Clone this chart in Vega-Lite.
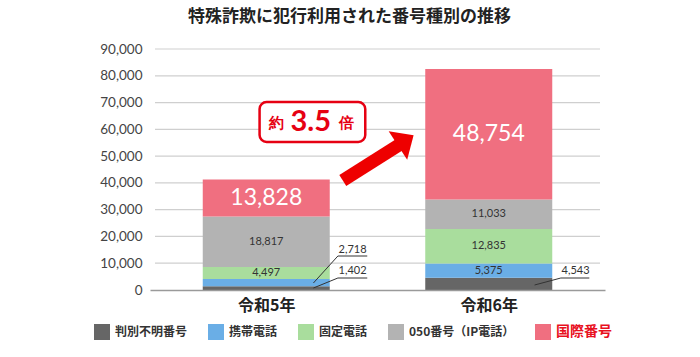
{
  "$schema": "https://vega.github.io/schema/vega-lite/v6.json",
  "autosize": {"type": "none"},
  "width": 455,
  "height": 241,
  "padding": {"left": 150, "top": 49, "right": 95, "bottom": 67},
  "background": "white",
  "title": {
    "text": "特殊詐欺に犯行利用された番号種別の推移",
    "font": "Noto Sans CJK JP",
    "fontSize": 17,
    "fontWeight": "bold",
    "color": "#222222",
    "anchor": "middle",
    "dx": -28,
    "offset": 16
  },
  "config": {"view": {"stroke": null}},
  "resolve": {"axis": {"x": "independent", "y": "independent"}},
  "datasets": {
    "grid": [
      {"v": 10000}, {"v": 20000}, {"v": 30000}, {"v": 40000}, {"v": 50000},
      {"v": 60000}, {"v": 70000}, {"v": 80000}, {"v": 90000}
    ],
    "bars": [
      {"year": "令和5年", "idx": 1, "type": "判別不明番号", "k": 1, "value": 1402},
      {"year": "令和5年", "idx": 1, "type": "携帯電話", "k": 2, "value": 2718},
      {"year": "令和5年", "idx": 1, "type": "固定電話", "k": 3, "value": 4497},
      {"year": "令和5年", "idx": 1, "type": "050番号（IP電話）", "k": 4, "value": 18817},
      {"year": "令和5年", "idx": 1, "type": "国際番号", "k": 5, "value": 13828},
      {"year": "令和6年", "idx": 2, "type": "判別不明番号", "k": 1, "value": 4543},
      {"year": "令和6年", "idx": 2, "type": "携帯電話", "k": 2, "value": 5375},
      {"year": "令和6年", "idx": 2, "type": "固定電話", "k": 3, "value": 12835},
      {"year": "令和6年", "idx": 2, "type": "050番号（IP電話）", "k": 4, "value": 11033},
      {"year": "令和6年", "idx": 2, "type": "国際番号", "k": 5, "value": 48754}
    ],
    "leaders": [
      {"g": "a", "x": 1.212, "y": 2614},
      {"g": "a", "x": 1.322, "y": 12696},
      {"g": "a", "x": 1.454, "y": 12696},
      {"g": "b", "x": 1.212, "y": 747},
      {"g": "b", "x": 1.322, "y": 4481},
      {"g": "b", "x": 1.454, "y": 4481},
      {"g": "c", "x": 2.206, "y": 1867},
      {"g": "c", "x": 2.324, "y": 4481},
      {"g": "c", "x": 2.452, "y": 4481}
    ],
    "leaderLabels": [
      {"label": "2,718", "x": 1.388, "y": 15000},
      {"label": "1,402", "x": 1.388, "y": 7200},
      {"label": "4,543", "x": 2.39, "y": 7200}
    ],
    "arrow": [
      {"x": 1.344, "y": 40900},
      {"x": 1.6, "y": 54300}
    ],
    "head": [{"x": 1.627, "y": 55900}],
    "box": [{"x": 0.97, "x2": 1.445, "y": 70200, "y2": 55300}],
    "boxText": [
      {"t": "約", "x": 1.045, "y": 62300},
      {"t": "3.5", "x": 1.2, "y": 62700},
      {"t": "倍", "x": 1.36, "y": 62300}
    ]
  },
  "layer": [
    {
      "data": {"name": "grid"},
      "mark": {"type": "rule", "color": "#cfcfcf", "strokeWidth": 1.2},
      "encoding": {
        "x": {"datum": 0.5, "type": "quantitative", "axis": null},
        "x2": {"datum": 2.5},
        "y": {"field": "v", "type": "quantitative", "axis": null}
      }
    },
    {
      "data": {"name": "bars"},
      "mark": {"type": "bar", "width": 127},
      "encoding": {
        "x": {
          "field": "idx",
          "type": "quantitative",
          "scale": {"domain": [0.5, 2.5], "nice": false, "zero": false},
          "axis": {"title": null, "values": [1, 2], "labelExpr": "datum.value == 1 ? '令和5年' : '令和6年'", "grid": false, "ticks": false, "domainColor": "#9a9a9a", "domainWidth": 1.5, "labelFont": "Noto Sans CJK JP", "labelFontSize": 16, "labelFontWeight": "bold", "labelColor": "#222222", "labelPadding": 7, "zindex": 1}
        },
        "y": {
          "field": "value",
          "type": "quantitative",
          "stack": "zero",
          "scale": {"domain": [0, 90000], "nice": false},
          "axis": {"title": null, "values": [0, 10000, 20000, 30000, 40000, 50000, 60000, 70000, 80000, 90000], "labelExpr": "format(datum.value, ',')", "grid": false, "ticks": false, "tickSize": 0, "tickWidth": 0, "tickOpacity": 0, "domain": false, "domainWidth": 0, "domainOpacity": 0, "labelFont": "Lato", "labelFontSize": 13.5, "labelColor": "#444444", "labelPadding": 8}
        },
        "order": {"field": "k", "type": "quantitative"},
        "color": {
          "field": "type",
          "type": "nominal",
          "scale": {
            "domain": ["判別不明番号", "携帯電話", "固定電話", "050番号（IP電話）", "国際番号"],
            "range": ["#666666", "#6aaee6", "#a9dd9d", "#b3b3b3", "#f06f80"]
          },
          "legend": {
            "title": null,
            "orient": "none",
            "legendX": -56,
            "legendY": 275,
            "direction": "horizontal",
            "columns": 5,
            "symbolType": "square",
            "symbolSize": 256,
            "symbolStrokeWidth": 0,
            "symbolOpacity": 1,
            "labelFont": "Noto Sans CJK JP",
            "labelFontSize": 12,
            "labelFontWeight": "bold",
            "labelColor": "#333333",
            "labelOffset": 5,
            "columnPadding": 20,
            "labelLimit": 300,
            "encode": {
              "labels": {
                "update": {
                  "fill": {"signal": "datum.label === '国際番号' ? '#e8101e' : '#333333'"},
                  "fontSize": {"signal": "datum.label === '国際番号' ? 14 : 12"}
                }
              }
            }
          }
        }
      }
    },
    {
      "data": {"name": "bars"},
      "transform": [
        {"stack": "value", "groupby": ["idx"], "sort": [{"field": "k", "order": "ascending"}], "as": ["v0", "v1"]},
        {"calculate": "(datum.v0 + datum.v1) / 2", "as": "mid"}
      ],
      "mark": {"type": "text", "font": "Lato", "baseline": "middle", "align": "center"},
      "encoding": {
        "x": {"field": "idx", "type": "quantitative", "axis": null},
        "y": {"field": "mid", "type": "quantitative", "axis": null},
        "text": {
          "condition": {"test": "datum.k == 1 || (datum.k == 2 && datum.idx == 1)", "value": ""},
          "field": "value",
          "type": "quantitative",
          "format": ","
        },
        "size": {"condition": {"test": "datum.k == 5", "value": 23}, "value": 11},
        "color": {"condition": {"test": "datum.k == 5", "value": "#ffffff"}, "value": "#333333"}
      }
    },
    {
      "data": {"name": "leaders"},
      "mark": {"type": "line", "color": "#333333", "strokeWidth": 1},
      "encoding": {
        "x": {"field": "x", "type": "quantitative", "axis": null},
        "y": {"field": "y", "type": "quantitative", "axis": null},
        "detail": {"field": "g", "type": "nominal"}
      }
    },
    {
      "data": {"name": "leaderLabels"},
      "mark": {"type": "text", "font": "Lato", "fontSize": 11, "color": "#333333", "baseline": "middle"},
      "encoding": {
        "x": {"field": "x", "type": "quantitative", "axis": null},
        "y": {"field": "y", "type": "quantitative", "axis": null},
        "text": {"field": "label", "type": "nominal"}
      }
    },
    {
      "data": {"name": "arrow"},
      "mark": {"type": "line", "color": "#ee0000", "strokeWidth": 13, "strokeCap": "butt"},
      "encoding": {
        "x": {"field": "x", "type": "quantitative", "axis": null},
        "y": {"field": "y", "type": "quantitative", "axis": null}
      }
    },
    {
      "data": {"name": "head"},
      "mark": {
        "type": "point",
        "shape": "M0,-0.55L1,0.55L-1,0.55Z",
        "filled": true,
        "color": "#ee0000",
        "opacity": 1,
        "size": 1156,
        "angle": 57
      },
      "encoding": {
        "x": {"field": "x", "type": "quantitative", "axis": null},
        "y": {"field": "y", "type": "quantitative", "axis": null}
      }
    },
    {
      "data": {"name": "box"},
      "mark": {"type": "rect", "fill": "white", "stroke": "#e60012", "strokeWidth": 2.5, "cornerRadius": 7},
      "encoding": {
        "x": {"field": "x", "type": "quantitative", "axis": null},
        "x2": {"field": "x2"},
        "y": {"field": "y", "type": "quantitative", "axis": null},
        "y2": {"field": "y2"}
      }
    },
    {
      "data": {"name": "boxText"},
      "mark": {"type": "text", "font": "Lato", "fontWeight": "bold", "color": "#e60012", "baseline": "middle", "align": "center"},
      "encoding": {
        "x": {"field": "x", "type": "quantitative", "axis": null},
        "y": {"field": "y", "type": "quantitative", "axis": null},
        "text": {"field": "t", "type": "nominal"},
        "size": {"condition": {"test": "datum.t == '3.5'", "value": 29}, "value": 15}
      }
    }
  ]
}
